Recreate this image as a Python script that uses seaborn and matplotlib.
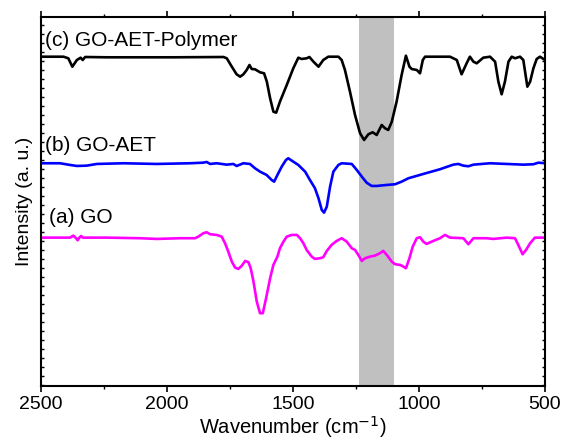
import numpy as np
import pandas as pd
import matplotlib
matplotlib.use("Agg")
import matplotlib.pyplot as plt
from matplotlib.ticker import MultipleLocator, FixedLocator
import seaborn as sns

sns.set_style("ticks")
plt.rcParams['font.family'] = ['Liberation Sans', 'DejaVu Sans']
for key in ["text.color", "axes.labelcolor", "xtick.color", "ytick.color", "axes.edgecolor"]:
    plt.rcParams[key] = "black"

# FTIR spectra (wavenumber in cm-1, intensity in a.u., offset)
wn_polymer = [2500, 2411, 2392, 2376, 2358, 2343, 2335, 2325, 2239, 1975, 1776, 1763, 1743,
              1724, 1710, 1697, 1684, 1673, 1664, 1651, 1631, 1615, 1604, 1591, 1578, 1567,
              1552, 1525, 1499, 1479, 1466, 1446, 1435, 1419, 1399, 1380, 1360, 1320, 1307,
              1294, 1274, 1254, 1234, 1218, 1201, 1184, 1168, 1148, 1135, 1122, 1108, 1089,
              1069, 1052, 1038, 1029, 1009, 996, 985, 976, 877, 850, 831, 811, 798, 784, 771,
              745, 718, 698, 685, 672, 659, 645, 632, 619, 599, 586, 570, 559, 546, 533, 520, 500]
int_polymer = [385.3, 385.3, 383.7, 375.3, 382, 384.3, 382, 385, 384.7, 384.7, 385, 383.7, 375.3,
               367.7, 365.3, 367.7, 372, 377, 373, 372.7, 369.7, 368.7, 360.3, 343.7, 330.3, 329.3,
               340.3, 357, 373.7, 384.3, 383, 383.7, 385, 380.3, 375.3, 382, 385.3, 385.3, 382,
               372, 350.3, 327, 308.7, 302, 307.7, 309.7, 307, 317, 313.7, 312, 320.3, 340.3,
               367, 386.3, 375.3, 373, 372, 368.7, 382, 385.3, 385.3, 382, 367.7, 378.7, 385.3, 380.3, 378.7,
               384.3, 385.3, 380.3, 360.3, 347.7, 360.3, 380.3, 385.3, 383.7, 385.3, 382, 355.3, 360.3, 373.7, 383, 385.3, 382]

wn_goaet = [2500, 2425, 2385, 2358, 2319, 2279, 2173, 2041, 1909, 1856, 1843, 1829, 1803, 1763,
            1737, 1724, 1697, 1671, 1651, 1631, 1605, 1585, 1575, 1562, 1545, 1528, 1519, 1505,
            1479, 1452, 1433, 1413, 1399, 1386, 1377, 1366, 1353, 1340, 1320, 1307, 1267, 1247,
            1227, 1208, 1188, 1168, 1128, 1095, 1069, 1042, 983, 917, 864, 844, 824, 804, 784,
            718, 652, 586, 546, 526, 500]
int_goaet = [278.7, 278.7, 277, 276, 276.3, 278, 278.7, 278, 278.7, 279.3, 280, 278, 278.7, 277.3,
             278, 276, 278.7, 278, 273.7, 270.3, 267, 262, 260.3, 267, 275.3, 282, 283.7, 281.3,
             277, 270.3, 262, 253.7, 243.7, 232, 229.3, 235.3, 255.3, 270.3, 277, 278.7, 278, 272,
             265.3, 259.3, 256, 256, 257, 257.7, 260.3, 263.7, 268, 272.7, 277.3, 278, 276.3, 275.7, 277.3,
             278.7, 278, 277.3, 277.7, 279.3, 278.7]

wn_go = [2500, 2385, 2372, 2361, 2355, 2348, 2341, 2335, 2239, 2107, 2041, 1948, 1889, 1876,
         1856, 1843, 1829, 1803, 1783, 1770, 1757, 1743, 1730, 1717, 1704, 1690, 1677, 1668,
         1657, 1644, 1631, 1620, 1607, 1591, 1578, 1562, 1552, 1538, 1525, 1505, 1485, 1472,
         1459, 1446, 1426, 1413, 1393, 1380, 1366, 1347, 1327, 1307, 1287, 1267, 1254, 1241,
         1227, 1214, 1194, 1175, 1155, 1142, 1128, 1108, 1095, 1075, 1062, 1052, 1038, 1025,
         1009, 996, 983, 970, 943, 917, 897, 877, 824, 804, 784, 731, 705, 652, 619, 606, 589,
         575, 559, 540, 500]
int_go = [204.3, 204.3, 206.3, 203.7, 201.7, 204.3, 206, 204.3, 204.3, 203.7, 203, 203.7, 203.7, 205.3,
          208.7, 209.7, 207.7, 207, 205.3, 198.7, 190.3, 180.3, 174.3, 173, 176, 181, 179.7, 173.7,
          160.3, 140.3, 128.7, 128.7, 143.7, 163.7, 177, 185.3, 193.7, 200.3, 205.3, 207, 207, 203.7,
          198.7, 192, 185.3, 183, 183.7, 184.7, 191, 197, 201, 203.7, 200.3, 193.7, 192, 187,
          181, 183.7, 185.3, 186.3, 188.7, 191, 187, 180.3, 177.7, 177, 175.3, 173.7, 183.7, 195.3,
          203.7, 204.7, 200.3, 198, 201, 203.7, 207, 204.3, 203.7, 197.7, 203.7, 203.7, 203, 204.3, 203.7, 197, 187.7,
          192, 198.7, 204.3, 204.3]

band_lo, band_hi = 1100, 1240

fig, ax = plt.subplots(figsize=(5.63, 4.42), dpi=100)
fig.subplots_adjust(left=0.073, right=0.968, bottom=0.127, top=0.9615)

ax.axvspan(band_lo, band_hi, color="#c0c0c0", lw=0, zorder=0)

sns.lineplot(x=wn_polymer, y=int_polymer, color="black", lw=1.9, ax=ax)
sns.lineplot(x=wn_goaet, y=int_goaet, color="#0000ff", lw=1.9, ax=ax)
sns.lineplot(x=wn_go, y=int_go, color="#ff00ff", lw=1.9, ax=ax)

ax.text(2484, 402, "(c) GO-AET-Polymer", fontsize=15, va="center", ha="left")
ax.text(2484, 296, "(b) GO-AET", fontsize=15, va="center", ha="left")
ax.text(2468, 224, "(a) GO", fontsize=15, va="center", ha="left")

ax.set_xlim(2500, 500)
ax.set_ylim(56, 425)
ax.xaxis.set_major_locator(MultipleLocator(500))
ax.xaxis.set_minor_locator(MultipleLocator(250))
ax.yaxis.set_major_locator(FixedLocator([]))
ax.yaxis.set_minor_locator(FixedLocator(np.arange(57, 425, 9)))

ax.tick_params(axis="x", which="major", direction="out", length=4, width=1.2,
               labelsize=14, top=True, pad=3)
ax.tick_params(axis="x", which="minor", direction="out", length=2.5, width=1, top=True)
ax.tick_params(axis="y", which="both", direction="in", length=2.5, width=1,
               left=True, right=True, labelleft=False)

for sp in ax.spines.values():
    sp.set_linewidth(1.5)
    sp.set_visible(True)

ax.set_xlabel("Wavenumber (cm$^{-1}$)", fontsize=14.5, labelpad=1)
ax.set_ylabel("Intensity (a. u.)", fontsize=14, labelpad=6)

plt.savefig("out.png", dpi=100)
